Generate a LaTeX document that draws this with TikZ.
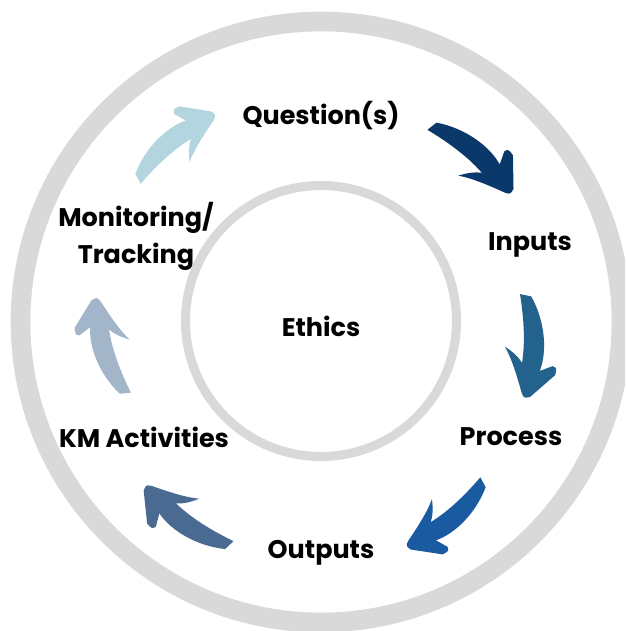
\documentclass[tikz,border=0pt]{standalone}
\usepackage{fontspec}
\setmainfont{Poppins}
\begin{document}
\begin{tikzpicture}[x=0.04cm,y=-0.04cm,
  ring/.style={draw=ringgray},
  lbl/.style={font=\fontsize{29}{42}\selectfont\bfseries, text=black, inner sep=0pt, align=center},
  brush/.style={fill=#1, draw=none}]
\definecolor{ringgray}{RGB}{217,217,217}
\definecolor{aone}{RGB}{11,56,107}
\definecolor{atwo}{RGB}{34,98,141}
\definecolor{athree}{RGB}{25,90,160}
\definecolor{afour}{RGB}{74,106,145}
\definecolor{afive}{RGB}{163,181,201}
\definecolor{asix}{RGB}{178,213,224}
\useasboundingbox (0,0) rectangle (625,631);
\clip (0,0) rectangle (625,631);
\fill[white] (0,0) rectangle (625,631);
% rings
\coordinate (ctr) at (321,322);
\draw[ring, line width=19.7*0.04cm] (ctr) circle[radius=300.5];
\draw[ring, line width=9*0.04cm] (321,321) circle[radius=135.5];
% labels
\node[lbl] (q) at (321,116) {Question(s)};
\node[lbl] (in) at (530,245) {Inputs};
\node[lbl] (pr) at (511,437) {Process};
\node[lbl] (out) at (321,553) {Outputs};
\node[lbl] (km) at (144,437) {KM Activities};
\node[lbl] (mon) at (136,236) {Monitoring/\\Tracking};
\node[lbl] (eth) at (321,326) {Ethics};
% brush arrow shape in a local frame: tail at (0,0), head corner at (1,0)
\newcommand{\brushshape}{%
  (0,0.01) -- (0.03,-0.10)
  .. controls (0.3,-0.23) and (0.6,-0.22) .. (0.77,-0.14)
  -- (0.73,-0.27)
  .. controls (0.75,-0.31) .. (0.82,-0.29)
  -- (1.02,-0.03)
  .. controls (1.03,0.03) .. (0.98,0.05)
  .. controls (0.85,0.08) and (0.65,0.12) .. (0.51,0.19)
  .. controls (0.56,0.12) and (0.62,0.06) .. (0.68,0.03)
  .. controls (0.45,-0.02) and (0.2,-0.01) .. (0,0.01) -- cycle}
\coordinate (t1) at (428,129);
\coordinate (t2) at (521,294);
\coordinate (t3) at (481,478);
\coordinate (t4) at (233,542);
\coordinate (t5) at (130,393);
\coordinate (t6) at (140,183);
\fill[brush=aone, shift={(t1)}, rotate=-36.6, scale=102.2] \brushshape;
\fill[brush=atwo, shift={(t2)}, rotate=-86.6, scale=101.2] \brushshape;
\fill[brush=athree, shift={(t3)}, rotate=-136.2, scale=98.3] \brushshape;
\fill[brush=afour, shift={(t4)}, rotate=148.4, scale=101] \brushshape;
\fill[brush=afive, shift={(t5)}, rotate=110.8, scale=98.4] \brushshape;
\fill[brush=asix, shift={(t6)}, rotate=43.4, scale=99] \brushshape;
\end{tikzpicture}
\end{document}
